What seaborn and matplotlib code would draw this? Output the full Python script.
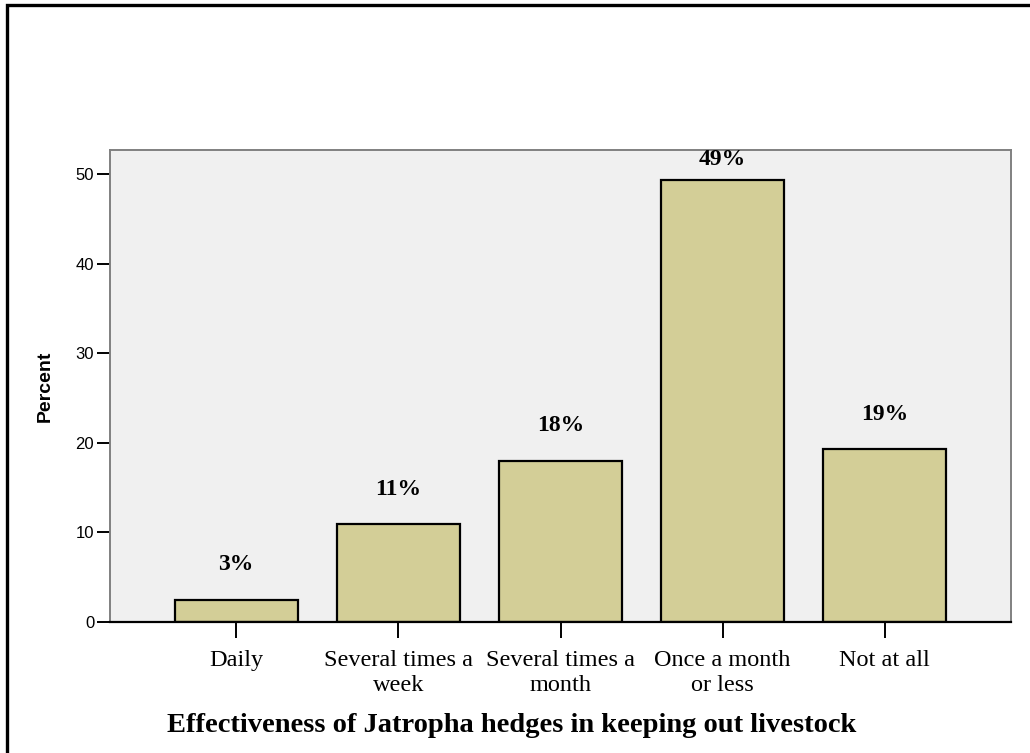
import numpy as np
import pandas as pd
import matplotlib
matplotlib.use('Agg')
import matplotlib.pyplot as plt
import seaborn as sns
from matplotlib.patches import Rectangle

categories = ['Daily', 'Several times a\nweek', 'Several times a\nmonth',
              'Once a month\nor less', 'Not at all']
percent = [2.5, 10.9, 18.0, 49.4, 19.3]
bar_labels = ['3%', '11%', '18%', '49%', '19%']
y_ticks = [0, 10, 20, 30, 40, 50]

df = pd.DataFrame({'category': categories, 'percent': percent})

sns.set_style('white')
plt.rcParams['text.color'] = 'black'
plt.rcParams['axes.labelcolor'] = 'black'
plt.rcParams['xtick.color'] = 'black'
plt.rcParams['ytick.color'] = 'black'
serif = ['Liberation Serif', 'DejaVu Serif']
sans = ['Liberation Sans', 'DejaVu Sans']

fig = plt.figure(figsize=(10.3, 7.53), dpi=100)
ax = fig.add_axes([110 / 1030, 1 - 622 / 753, 901 / 1030, 472 / 753])
ax.set_facecolor('#f0f0f0')

sns.barplot(data=df, x='category', y='percent', color='#d3ce97',
            edgecolor='black', linewidth=1.6, width=0.76, saturation=1, ax=ax)

ax.set_xlim(-0.778, 4.778)
ax.set_ylim(0, 52.7)
ax.set_yticks(y_ticks)
ax.set_yticklabels([str(t) for t in y_ticks], family=sans, fontsize=12)
ax.set_xticks(range(len(categories)))
ax.set_xticklabels(categories, family=serif, fontsize=17.5, linespacing=1.2,
                   ha='center', multialignment='center')
ax.tick_params(axis='x', bottom=True, direction='out', length=11.5, width=1.4,
               pad=9, color='black', labelcolor='black')
ax.tick_params(axis='y', left=True, direction='out', length=9.4, width=1.4,
               pad=2, color='black', labelcolor='black')

# percentage labels above the bars
label_y = np.minimum(np.array(percent) + 3.9, 51.6)
for i, (yy, txt) in enumerate(zip(label_y, bar_labels)):
    ax.text(i, yy, txt, ha='center', va='center', family=serif,
            fontweight='bold', fontsize=17, color='black')

ax.set_xlabel('Effectiveness of Jatropha hedges in keeping out livestock',
              family=serif, fontweight='bold', fontsize=20.5, va='center',
              color='black')
ax.xaxis.set_label_coords((512 - 110) / 901, -103 / 472)
ax.set_ylabel('Percent', family=sans, fontweight='bold', fontsize=14,
              va='center', color='black')
ax.yaxis.set_label_coords(-0.072, 0.5)

for side in ['top', 'right', 'left']:
    ax.spines[side].set_color('#808080')
    ax.spines[side].set_linewidth(1.4)
ax.spines['bottom'].set_color('black')
ax.spines['bottom'].set_linewidth(1.6)

# outer frame (cut off on the right and bottom)
fig.patches.append(Rectangle((6.5 / 1030, -0.2), 1.5, 1.2 - 4.5 / 753,
                             transform=fig.transFigure, fill=False,
                             edgecolor='black', linewidth=2.4, clip_on=False))

fig.savefig('out.png', dpi=100)
